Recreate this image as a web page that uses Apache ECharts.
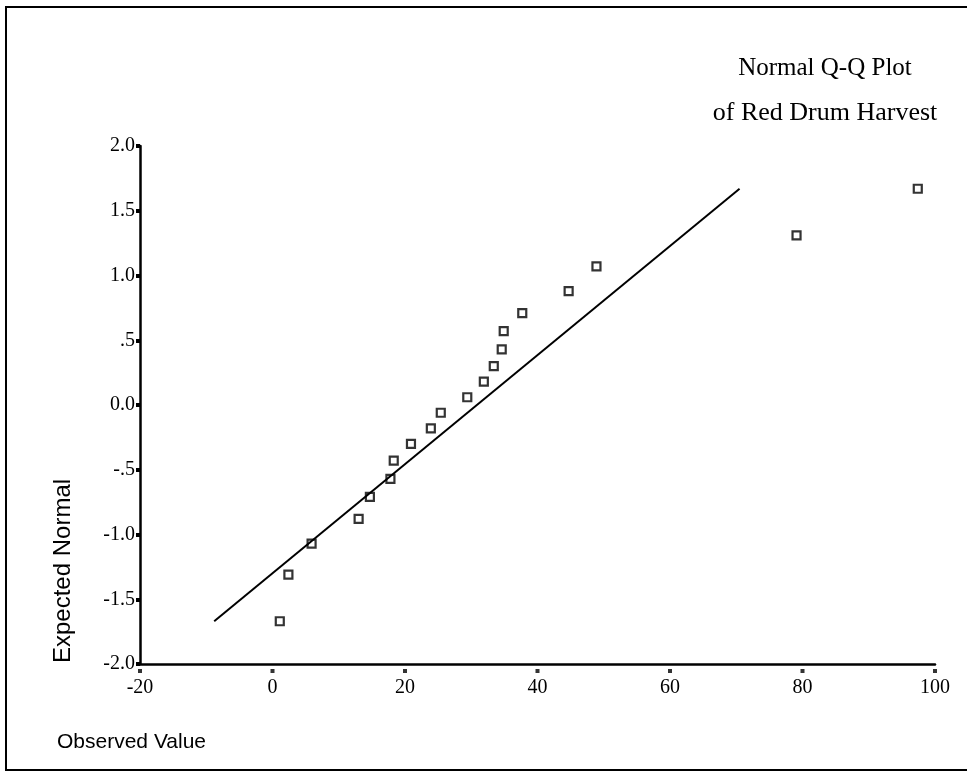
<!DOCTYPE html>
<html>
<head>
<meta charset="utf-8">
<script src="https://cdn.jsdelivr.net/npm/echarts@6/dist/echarts.min.js"></script>
<style>
html,body{margin:0;padding:0;background:#fff;}
#chart{width:967px;height:772px;}
</style>
</head>
<body>
<div id="chart"></div>
<script>
var observedValues = [1.1, 2.4, 5.9, 13.0, 14.7, 17.8, 18.3, 20.9, 23.9, 25.4, 29.4, 31.9, 33.4, 34.6, 34.9, 37.7, 44.7, 48.9, 79.1, 97.4];
var expectedNormal = [-1.67, -1.31, -1.07, -0.88, -0.71, -0.57, -0.43, -0.30, -0.18, -0.06, 0.06, 0.18, 0.30, 0.43, 0.57, 0.71, 0.88, 1.07, 1.31, 1.67];
// Reference line end points
var lineX = [-8.8, 70.5];
var lineY = [-1.67, 1.67];
// Axis ticks
var xTickValues = [-20, 0, 20, 40, 60, 80, 100];
var yTickValues = [-2, -1.5, -1, -0.5, 0, 0.5, 1, 1.5, 2];
var yTickLabels = ['-2.0', '-1.5', '-1.0', '-.5', '0.0', '.5', '1.0', '1.5', '2.0'];
var titleLines = ['Normal Q-Q Plot', 'of Red Drum Harvest'];
var xAxisTitle = 'Observed Value';
var yAxisTitle = 'Expected Normal';

var serif = '"Liberation Serif", "DejaVu Serif", serif';
var sans = '"Liberation Sans", Arial, sans-serif';

var points = observedValues.map(function (x, i) { return [x, expectedNormal[i]]; });
var lineData = lineX.map(function (x, i) { return [x, lineY[i]]; });
var xTickDots = xTickValues.map(function (x) { return [x, yTickValues[0]]; });

var chart = echarts.init(document.getElementById('chart'), null, {renderer: 'canvas'});
chart.setOption({
  animation: false,
  backgroundColor: '#fff',
  grid: {left: 140, right: 32, top: 146, bottom: 108, containLabel: false},
  xAxis: {
    type: 'value', min: -20, max: 100, interval: 20,
    axisLine: {show: true, onZero: false, lineStyle: {color: '#000', width: 2.5}},
    axisTick: {show: false},
    splitLine: {show: false},
    axisLabel: {color: '#000', fontFamily: serif, fontSize: 20, margin: 14}
  },
  yAxis: {
    type: 'value', min: -2, max: 2, interval: 0.5,
    axisLine: {show: true, onZero: false, lineStyle: {color: '#000', width: 2.5}},
    axisTick: {show: true, length: 4, lineStyle: {color: '#000', width: 4}},
    splitLine: {show: false},
    axisLabel: {
      color: '#000', fontFamily: serif, fontSize: 20, margin: 5,
      formatter: function (v) {
        var i = yTickValues.indexOf(v);
        return i >= 0 ? yTickLabels[i] : '';
      }
    }
  },
  series: [
    {
      type: 'line', data: lineData, symbol: 'none', silent: true,
      lineStyle: {color: '#000', width: 2}
    },
    {
      type: 'scatter', data: points, symbol: 'rect', symbolSize: 8,
      itemStyle: {color: '#fff', borderColor: '#000', borderWidth: 2.2}
    },
    {
      type: 'scatter', data: xTickDots, symbol: 'rect', symbolSize: 4,
      symbolOffset: [0, 7], clip: false, silent: true,
      itemStyle: {color: '#000'}
    }
  ],
  graphic: [
    {type: 'rect', shape: {x: 6, y: 7, width: 990, height: 763},
     style: {fill: null, stroke: '#000', lineWidth: 2}, silent: true},
    {type: 'text', x: 825, y: 68,
     style: {text: titleLines[0], font: '25px ' + serif, fill: '#000', align: 'center', verticalAlign: 'middle', textAlign: 'center', textVerticalAlign: 'middle'}},
    {type: 'text', x: 825, y: 113,
     style: {text: titleLines[1], font: '26px ' + serif, fill: '#000', align: 'center', verticalAlign: 'middle', textAlign: 'center', textVerticalAlign: 'middle'}},
    {type: 'text', x: 57, y: 742,
     style: {text: xAxisTitle, font: '21px ' + sans, fill: '#000', align: 'left', verticalAlign: 'middle', textAlign: 'left', textVerticalAlign: 'middle'}},
    {type: 'text', x: 63, y: 663, rotation: Math.PI / 2,
     style: {text: yAxisTitle, font: '24px ' + sans, fill: '#000', align: 'left', verticalAlign: 'middle', textAlign: 'left', textVerticalAlign: 'middle'}}
  ]
});
</script>
</body>
</html>
